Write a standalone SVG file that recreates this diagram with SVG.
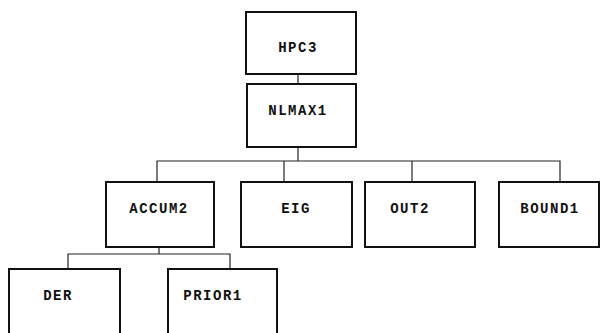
<svg xmlns="http://www.w3.org/2000/svg" width="602" height="333" viewBox="0 0 602 333">
<style>
.box{fill:#fff;stroke:#111;stroke-width:2}
.lbl{font-family:"Liberation Mono","DejaVu Sans Mono",monospace;font-size:14px;font-weight:bold;fill:#111;text-anchor:middle;letter-spacing:1.5px}
.con{fill:none;stroke:#222;stroke-width:1.2}
</style>
<rect width="602" height="333" fill="#fff"/>
<g id="connectors">
<path class="con" d="M298 74V84"/>
<path class="con" d="M298 147V161"/>
<path class="con" d="M157 182V161H560V182"/>
<path class="con" d="M284 161V182"/>
<path class="con" d="M412 161V182"/>
<path class="con" d="M159 247V254"/>
<path class="con" d="M68 269V254H230V269"/>
</g>
<g id="HPC3"><rect class="box" x="246" y="12" width="110" height="62"/><text class="lbl" x="298" y="52">HPC3</text></g>
<g id="NLMAX1"><rect class="box" x="247" y="84" width="109" height="63"/><text class="lbl" x="298" y="115">NLMAX1</text></g>
<g id="ACCUM2"><rect class="box" x="106" y="182" width="108" height="65"/><text class="lbl" x="159" y="213">ACCUM2</text></g>
<g id="EIG"><rect class="box" x="241" y="182" width="111" height="65"/><text class="lbl" x="296" y="213">EIG</text></g>
<g id="OUT2"><rect class="box" x="365" y="182" width="110" height="65"/><text class="lbl" x="410" y="213">OUT2</text></g>
<g id="BOUND1"><rect class="box" x="499" y="182" width="100" height="65"/><text class="lbl" x="550" y="213">BOUND1</text></g>
<g id="DER"><rect class="box" x="9" y="269" width="111" height="66"/><text class="lbl" x="58" y="300">DER</text></g>
<g id="PRIOR1"><rect class="box" x="168" y="269" width="109" height="66"/><text class="lbl" x="213" y="300">PRIOR1</text></g>
</svg>
